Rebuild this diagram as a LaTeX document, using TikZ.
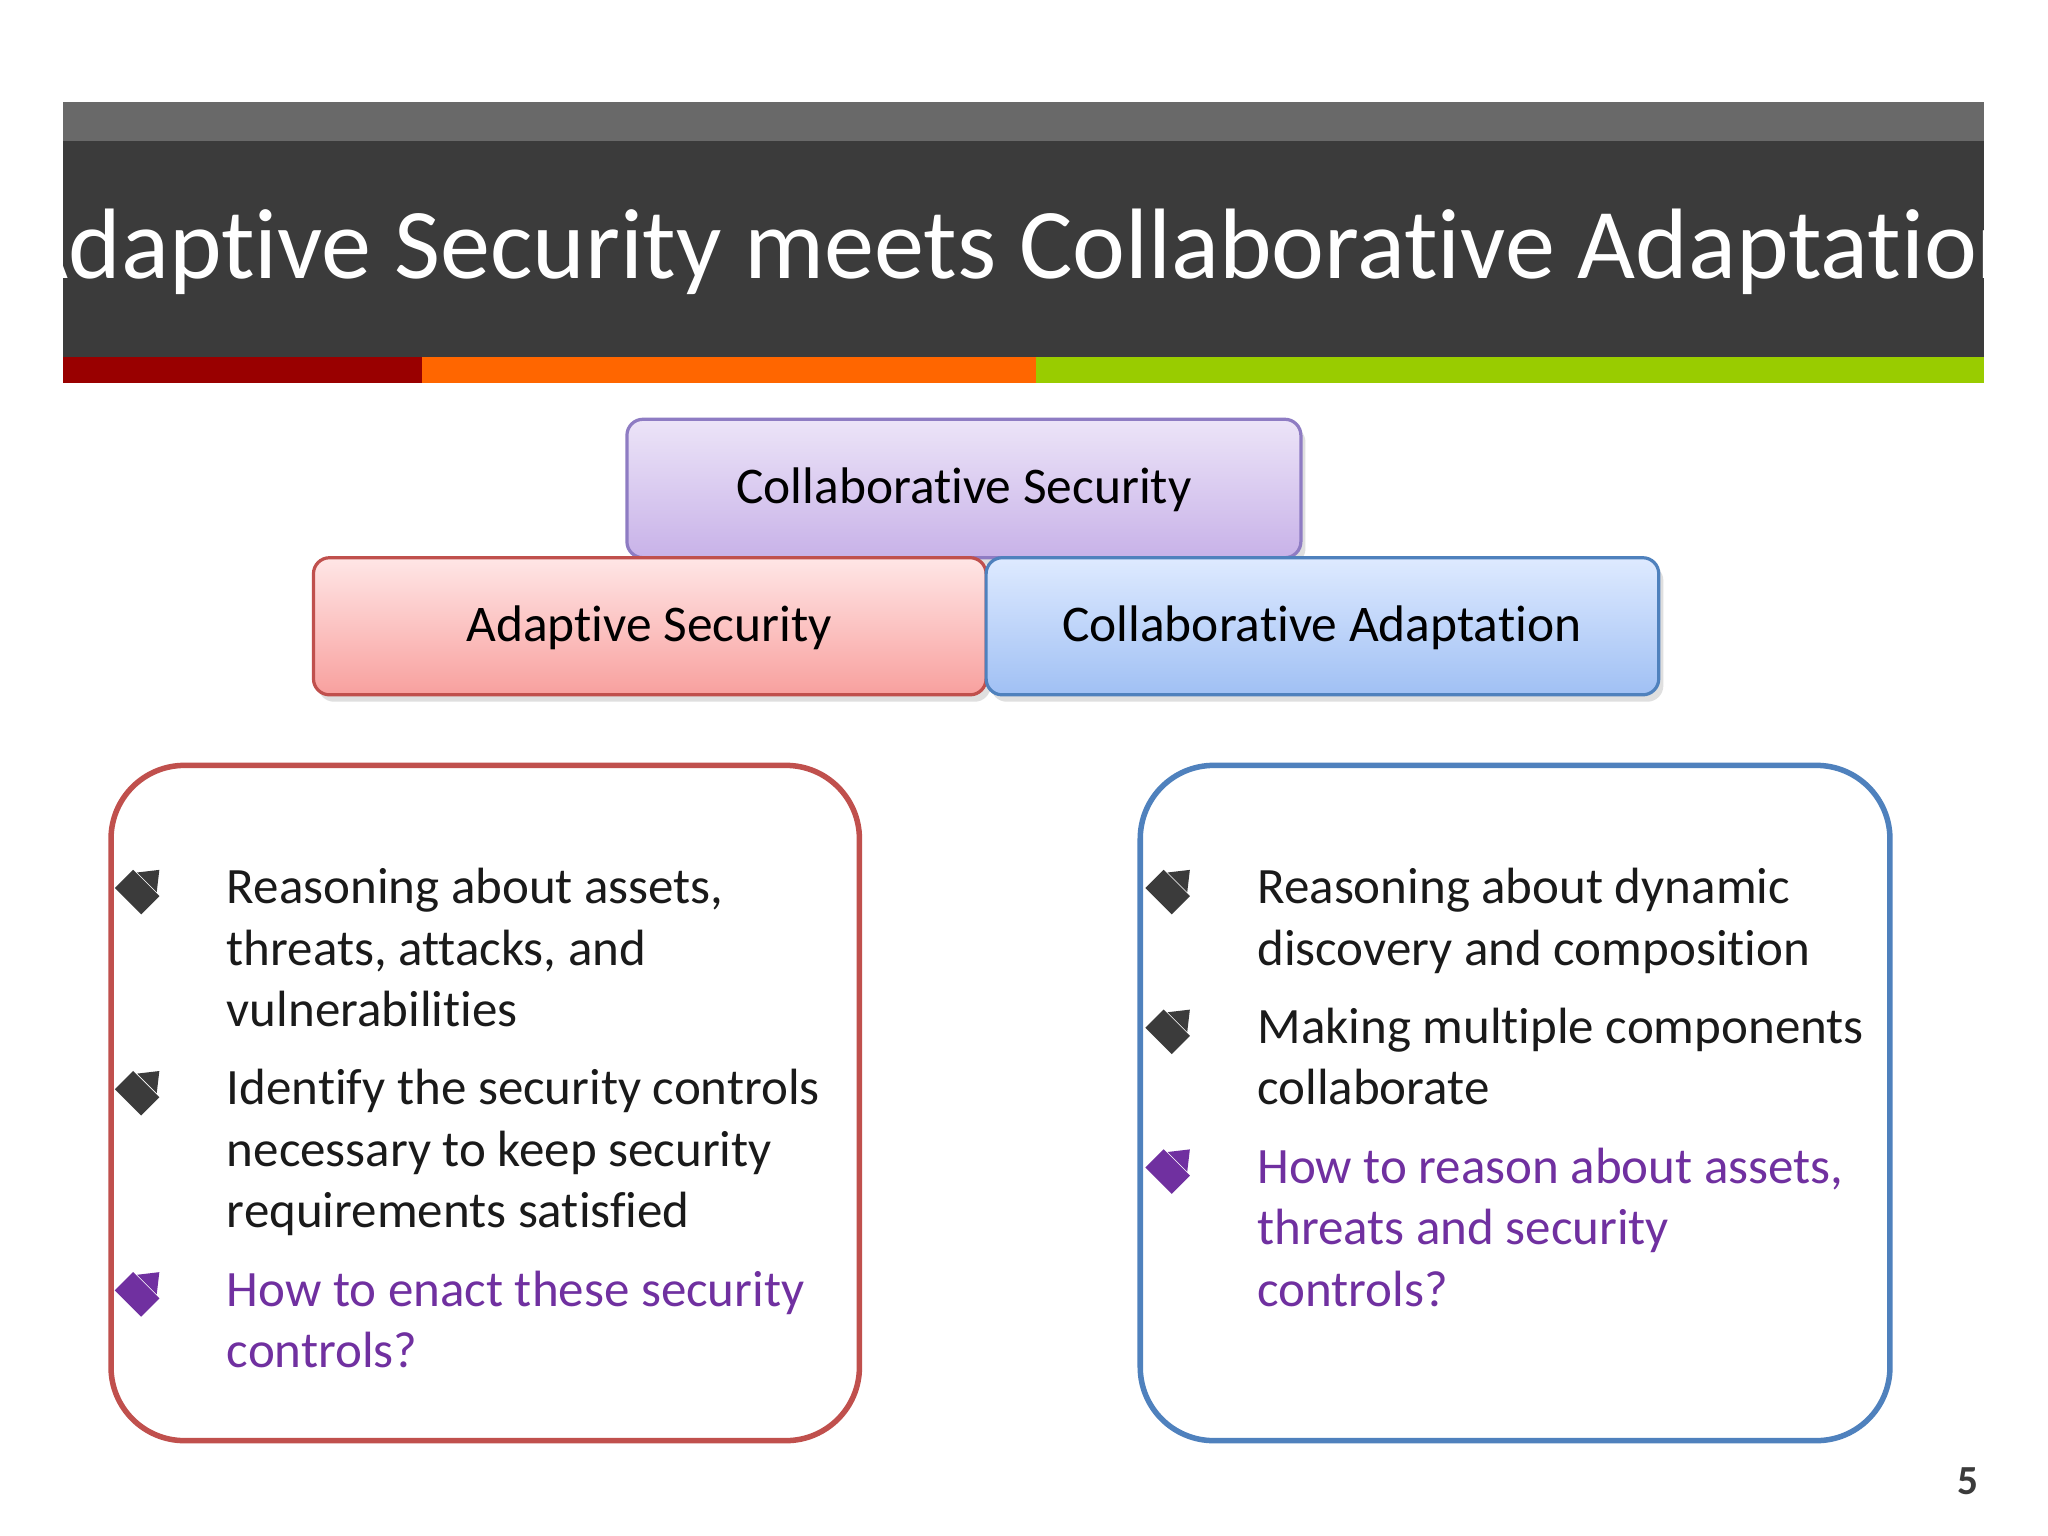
\documentclass[tikz,border=0pt]{standalone}
\usepackage{fontspec}
\setmainfont{Carlito}[RawFeature={-liga}]
\usetikzlibrary{arrows.meta,shadows}
\definecolor{ttop}{HTML}{696969}
\definecolor{tdark}{HTML}{3B3B3B}
\definecolor{sred}{HTML}{990000}
\definecolor{sorange}{HTML}{FF6600}
\definecolor{sgreen}{HTML}{99CC00}
\definecolor{bred}{HTML}{C0504D}
\definecolor{bblue}{HTML}{4F81BD}
\definecolor{bpurp}{HTML}{8E7CC3}
\definecolor{qpurp}{HTML}{7030A0}
\definecolor{txt}{HTML}{1A1A1A}
\tikzset{
  tbox/.style={draw, line width=0.7pt, rounded corners=3.5pt, drop shadow={shadow xshift=1pt,shadow yshift=-1.5pt,opacity=0.25}},
  big/.style={line width=1.2pt, rounded corners=16pt},
  ln/.style={anchor=base west, inner sep=0pt, font=\fontsize{11.1}{13.3}\selectfont, text=txt},
  q/.style={ln, text=qpurp},
  lbl/.style={font=\fontsize{11.2}{14}\selectfont, text=black}
}
\newcommand{\bul}[3]{%
  \draw[line width=4.5\pgflinewidth, #3, line cap=butt] (#1,#2+10) -- (#1+14,#2-4);
  \fill[#3] (#1+24,#2-14) -- (#1+7,#2-12) -- (#1+22,#2+3) -- cycle;}
\begin{document}
\begin{tikzpicture}[x=0.01cm,y=-0.01cm]
\useasboundingbox (0,0) rectangle (1568,1176);
\fill[white] (0,0) rectangle (1568,1176);
% title bar
\fill[ttop] (48,78) rectangle (1519,108);
\fill[tdark] (48,108) rectangle (1519,273);
\fill[sred] (48,273) rectangle (323,293);
\fill[sorange] (323,273) rectangle (793,293);
\fill[sgreen] (793,273) rectangle (1519,293);
\node[anchor=base, text=white, font=\fontsize{21.8}{26}\selectfont, inner sep=0pt] (title) at (781,213) {Adaptive Security meets Collaborative Adaptation};
% top boxes
\path[tbox, draw=bpurp, top color={rgb,255:red,236;green,228;blue,248}, bottom color={rgb,255:red,200;green,178;blue,232}] (480,321) rectangle (996,427);
\node[lbl] (cs) at (738,375) {Collaborative Security};
\path[tbox, draw=bred, top color={rgb,255:red,255;green,230;blue,230}, bottom color={rgb,255:red,248;green,160;blue,158}] (240,427) rectangle (755,532);
\node[lbl] (as) at (497,481) {Adaptive Security};
\path[tbox, draw=bblue, top color={rgb,255:red,222;green,234;blue,255}, bottom color={rgb,255:red,160;green,192;blue,244}] (755,427) rectangle (1270,532);
\node[lbl] (ca) at (1012,481) {Collaborative Adaptation};
% big boxes
\draw[big, draw=bred] (85,586) rectangle (658,1103);
\draw[big, draw=bblue] (873,586) rectangle (1447,1103);
% left text
\bul{98}{680}{tdark}
\node[ln] (l1) at (173,692) {Reasoning about assets,};
\node[ln] (l2) at (173,739) {threats, attacks, and};
\node[ln] (l3) at (173,786) {vulnerabilities};
\bul{98}{834}{tdark}
\node[ln] (l4) at (173,846) {Identify the security controls};
\node[ln] (l5) at (173,893) {necessary to keep security};
\node[ln] (l6) at (173,940) {requirements satisfied};
\bul{98}{988}{qpurp}
\node[q] (l7) at (173,1000) {How to enact these security};
\node[q] (l8) at (173,1047) {controls?};
% right text
\bul{887}{680}{tdark}
\node[ln] (r1) at (962,692) {Reasoning about dynamic};
\node[ln] (r2) at (962,739) {discovery and composition};
\bul{887}{787}{tdark}
\node[ln] (r3) at (962,799) {Making multiple components};
\node[ln] (r4) at (962,846) {collaborate};
\bul{887}{894}{qpurp}
\node[q] (r5) at (962,906) {How to reason about assets,};
\node[q] (r6) at (962,953) {threats and security};
\node[q] (r7) at (962,1000) {controls?};
% page number
\node[anchor=base, font=\fontsize{9}{10}\selectfont\bfseries, text=tdark, inner sep=0pt] (pn) at (1507,1144) {5};
\end{tikzpicture}
\end{document}
